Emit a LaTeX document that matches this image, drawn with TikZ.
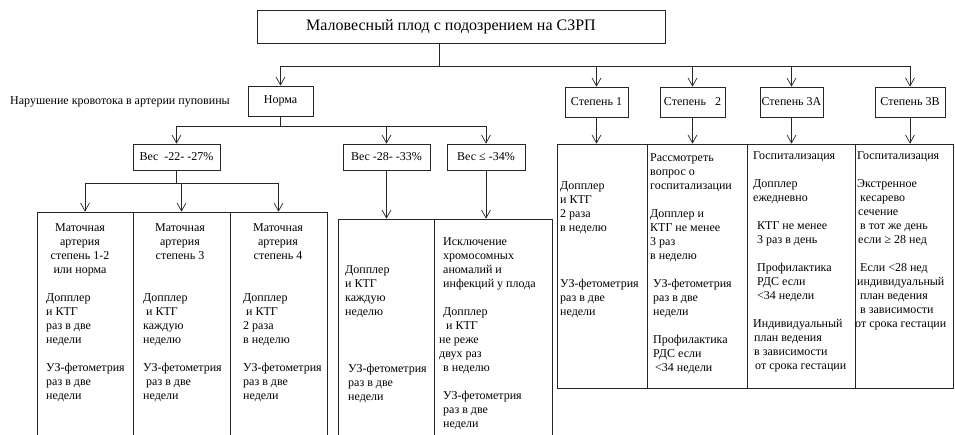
\documentclass[tikz,border=0pt]{standalone}
\usepackage{fontspec}
\setmainfont{Liberation Serif}
\usetikzlibrary{arrows.meta}
\tikzset{
  box/.style={draw=black!85, line width=0.7pt, inner sep=0pt, font=\fontsize{12}{14}\selectfont},
  cell/.style={draw=black!85, line width=0.7pt, inner sep=0pt},
  conn/.style={draw=black!85, line width=0.7pt},
  arr/.style={conn, -{Straight Barb[length=8pt,width=9pt]}},
  txt/.style={inner sep=0pt, font=\fontsize{12}{14}\selectfont},
}
\newcommand\Lcol[4]{\foreach \t [count=\i] in {#4}{\node[txt,anchor=base west] (#1-\i) at ({#2},{#3+14*(\i-1)}) {\t};}}
\newcommand\Ccol[4]{\foreach \t [count=\i] in {#4}{\node[txt,anchor=base] (#1-\i) at ({#2},{#3+14*(\i-1)}) {\t};}}
\begin{document}
\begin{tikzpicture}[x=1pt,y=-1pt]
\useasboundingbox (0,0) rectangle (955,434);
% top
\node[box, minimum width=408pt, minimum height=33pt] (T) at (461,26.5) {};
\node[txt, font=\fontsize{16}{19}\selectfont] (Tt) at (451,26.5) {Маловесный плод с подозрением на СЗРП};
\node[txt, anchor=base west] (lab) at (10,104) {Нарушение кровотока в артерии пуповины};
\node[box, minimum width=65pt, minimum height=30pt] (N) at (280.5,101) {Норма};
\node[box, minimum width=63pt, minimum height=30pt] (s1) at (596.5,102) {Степень 1};
\node[box, minimum width=65pt, minimum height=30pt] (s2) at (692.5,102) {Степень~~ 2};
\node[box, minimum width=63pt, minimum height=30pt] (s3) at (791.5,102) {Степень 3А};
\node[box, minimum width=70pt, minimum height=30pt] (s4) at (910,102) {Степень 3В};
\node[box, minimum width=87pt, minimum height=26pt] (w1) at (176.5,157) {Вес~ -22- -27\%};
\node[box, minimum width=87pt, minimum height=26pt] (w2) at (386.5,157) {Вес -28- -33\%};
\node[box, minimum width=78pt, minimum height=26pt] (w3) at (486,157) {Вес ≤ -34\%};
% cells
\node[cell, minimum width=96pt, minimum height=228pt] (c1) at (85,326) {};
\node[cell, minimum width=97pt, minimum height=228pt] (c2) at (181.5,326) {};
\node[cell, minimum width=97pt, minimum height=228pt] (c3) at (278.5,326) {};
\node[cell, minimum width=96pt, minimum height=221pt] (c4) at (386,329.5) {};
\node[cell, minimum width=118pt, minimum height=221pt] (c5) at (493,329.5) {};
\node[cell, minimum width=90pt, minimum height=244pt] (c6) at (602,266) {};
\node[cell, minimum width=100pt, minimum height=244pt] (c7) at (697,266) {};
\node[cell, minimum width=108pt, minimum height=244pt] (c8) at (801,266) {};
\node[cell, minimum width=98pt, minimum height=244pt] (c9) at (904,266) {};
% connectors
\coordinate (b0) at (439,66);
\coordinate (b1) at (280.5,126);
\coordinate (b2) at (176.5,183);
\draw[conn] (T.south -| b0) -- (b0);
\draw[arr] (b0) -| (N.north);
\draw[arr] (b0) -| (s1.north);
\draw[arr] (b0) -| (s2.north);
\draw[arr] (b0) -| (s3.north);
\draw[arr] (b0) -| (s4.north);
\draw[conn] (N.south) -- (b1);
\draw[arr] (b1) -| (w1.north);
\draw[arr] (b1) -| (w2.north);
\draw[arr] (b1) -| (w3.north);
\draw[conn] (w1.south) -- (b2);
\draw[arr] (b2) -| (c1.north);
\draw[arr] (b2) -| (c2.north);
\draw[arr] (b2) -| (c3.north);
\draw[arr] (w2.south) -- (w2.south |- c4.north);
\draw[arr] (w3.south) -- (w3.south |- c5.north);
\draw[arr] (s1.south) -- (s1.south |- c6.north);
\draw[arr] (s2.south) -- (s2.south |- c7.north);
\draw[arr] (s3.south) -- (s3.south |- c8.north);
\draw[arr] (s4.south) -- (s4.south |- c9.north);
% texts
\Ccol{h1}{80}{231}{Маточная, артерия, степень 1-2, или норма}
\Lcol{t1}{46}{301}{Допплер, и КТГ, раз в две, недели, {}, УЗ-фетометрия, раз в две, недели}
\Ccol{h2}{180}{231}{Маточная, артерия, степень 3}
\Lcol{t2}{143}{301}{Допплер, \hspace*{3pt}и КТГ, каждую, неделю, {}, УЗ-фетометрия, \hspace*{3pt}раз в две, недели}
\Ccol{h3}{278}{231}{Маточная, артерия, степень 4}
\Lcol{t3}{243}{301}{Допплер, \hspace*{3pt}и КТГ, 2 раза, в неделю, {}, УЗ-фетометрия, раз в две, недели}
\Lcol{t4}{345}{273}{Допплер, и КТГ, каждую, неделю}
\Lcol{u4}{348}{372}{УЗ-фетометрия, раз в две, недели}
\Lcol{t5}{439}{245}{\hspace*{4pt}Исключение, \hspace*{4pt}хромосомных, \hspace*{4pt}аномалий и, \hspace*{4pt}инфекций у плода, {}, \hspace*{4pt}Допплер, \hspace*{7pt}и КТГ, не реже, двух раз, \hspace*{4pt}в неделю, {}, \hspace*{4pt}УЗ-фетометрия, \hspace*{4pt}раз в две, \hspace*{4pt}недели}
\Lcol{t6}{560}{189}{Допплер, и КТГ, 2 раза, в неделю, {}, {}, {}, УЗ-фетометрия, раз в две, недели}
\Lcol{t7}{650}{161}{Рассмотреть, вопрос о, госпитализации, {}, Допплер и, КТГ не менее, 3 раз, в неделю, {}, \hspace*{3pt}УЗ-фетометрия, \hspace*{3pt}раз в две, \hspace*{3pt}недели, {}, \hspace*{3pt}Профилактика, \hspace*{3pt}РДС если, \hspace*{5pt}<34 недели}
\Lcol{t8}{753}{159}{Госпитализация, {}, Допплер, ежедневно, {}, \hspace*{4pt}КТГ не менее, \hspace*{4pt}3 раз в день, {}, \hspace*{4pt}Профилактика, \hspace*{4pt}РДС если, \hspace*{4pt}<34 недели, {}, Индивидуальный, \hspace*{1pt}план ведения, \hspace*{1pt}в зависимости, \hspace*{2pt}от срока гестации}
\Lcol{t9}{857}{159}{Госпитализация, {}, Экстренное, \hspace*{3pt}кесарево, \hspace*{1pt}сечение, \hspace*{3pt}в тот же день, \hspace*{1pt}если ≥ 28 нед, {}, \hspace*{3pt}Если <28 нед, индивидуальный, \hspace*{3pt}план ведения, \hspace*{3pt}в зависимости, \hspace*{-2pt}от срока гестации}
\end{tikzpicture}
\end{document}
